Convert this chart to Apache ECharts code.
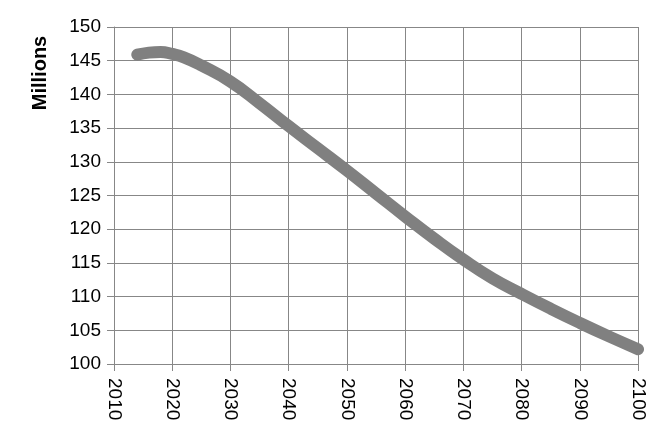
<!DOCTYPE html>
<html><head><meta charset="utf-8">
<script src="https://cdn.jsdelivr.net/npm/echarts@6/dist/echarts.min.js"></script>
<style>html,body{margin:0;padding:0;background:#fff}#c{width:666px;height:446px}</style>
</head><body><div id="c"></div>
<script>
const years = [2014, 2016, 2018, 2020, 2022, 2025, 2030, 2035, 2040, 2045, 2050, 2055, 2060, 2065, 2070, 2075, 2080, 2085, 2090, 2095, 2100];
const population = [145.9, 146.2, 146.3, 146.0, 145.5, 144.3, 141.9, 138.7, 135.3, 132.0, 128.7, 125.3, 121.9, 118.6, 115.5, 112.7, 110.4, 108.2, 106.1, 104.1, 102.2];
const yAxisTitle = 'Millions';

const chart = echarts.init(document.getElementById('c'), null, {renderer: 'canvas'});
const gridColor = '#878787';
const font = 'Liberation Sans, Arial, sans-serif';
chart.setOption({
  animation: false,
  grid: {left: 114, right: 28, top: 27, bottom: 82},
  xAxis: {
    type: 'value', min: 2010, max: 2100, interval: 10,
    axisLine: {show: true, lineStyle: {color: gridColor, width: 1}},
    axisTick: {show: true, length: 7, lineStyle: {color: gridColor}},
    splitLine: {show: true, lineStyle: {color: gridColor, width: 1}},
    axisLabel: {rotate: -90, color: '#000', fontSize: 19, fontFamily: font, margin: 14,
      formatter: v => String(v)}
  },
  yAxis: {
    type: 'value', min: 100, max: 150, interval: 5,
    axisLine: {show: true, lineStyle: {color: gridColor, width: 1}},
    axisTick: {show: true, length: 7, lineStyle: {color: gridColor}},
    splitLine: {show: true, lineStyle: {color: gridColor, width: 1}},
    axisLabel: {color: '#000', fontSize: 19, fontFamily: font, margin: 13}
  },
  graphic: [{
    type: 'text', x: 40, y: 73, rotation: Math.PI / 2,
    style: {text: yAxisTitle, fill: '#000', font: 'bold 20px ' + font, align: 'center', verticalAlign: 'middle'}
  }],
  series: [{
    type: 'line', smooth: 0.5, showSymbol: false,
    data: years.map((y, i) => [y, population[i]]),
    lineStyle: {color: '#808080', width: 12, cap: 'round', join: 'round'}
  }]
});
</script></body></html>
